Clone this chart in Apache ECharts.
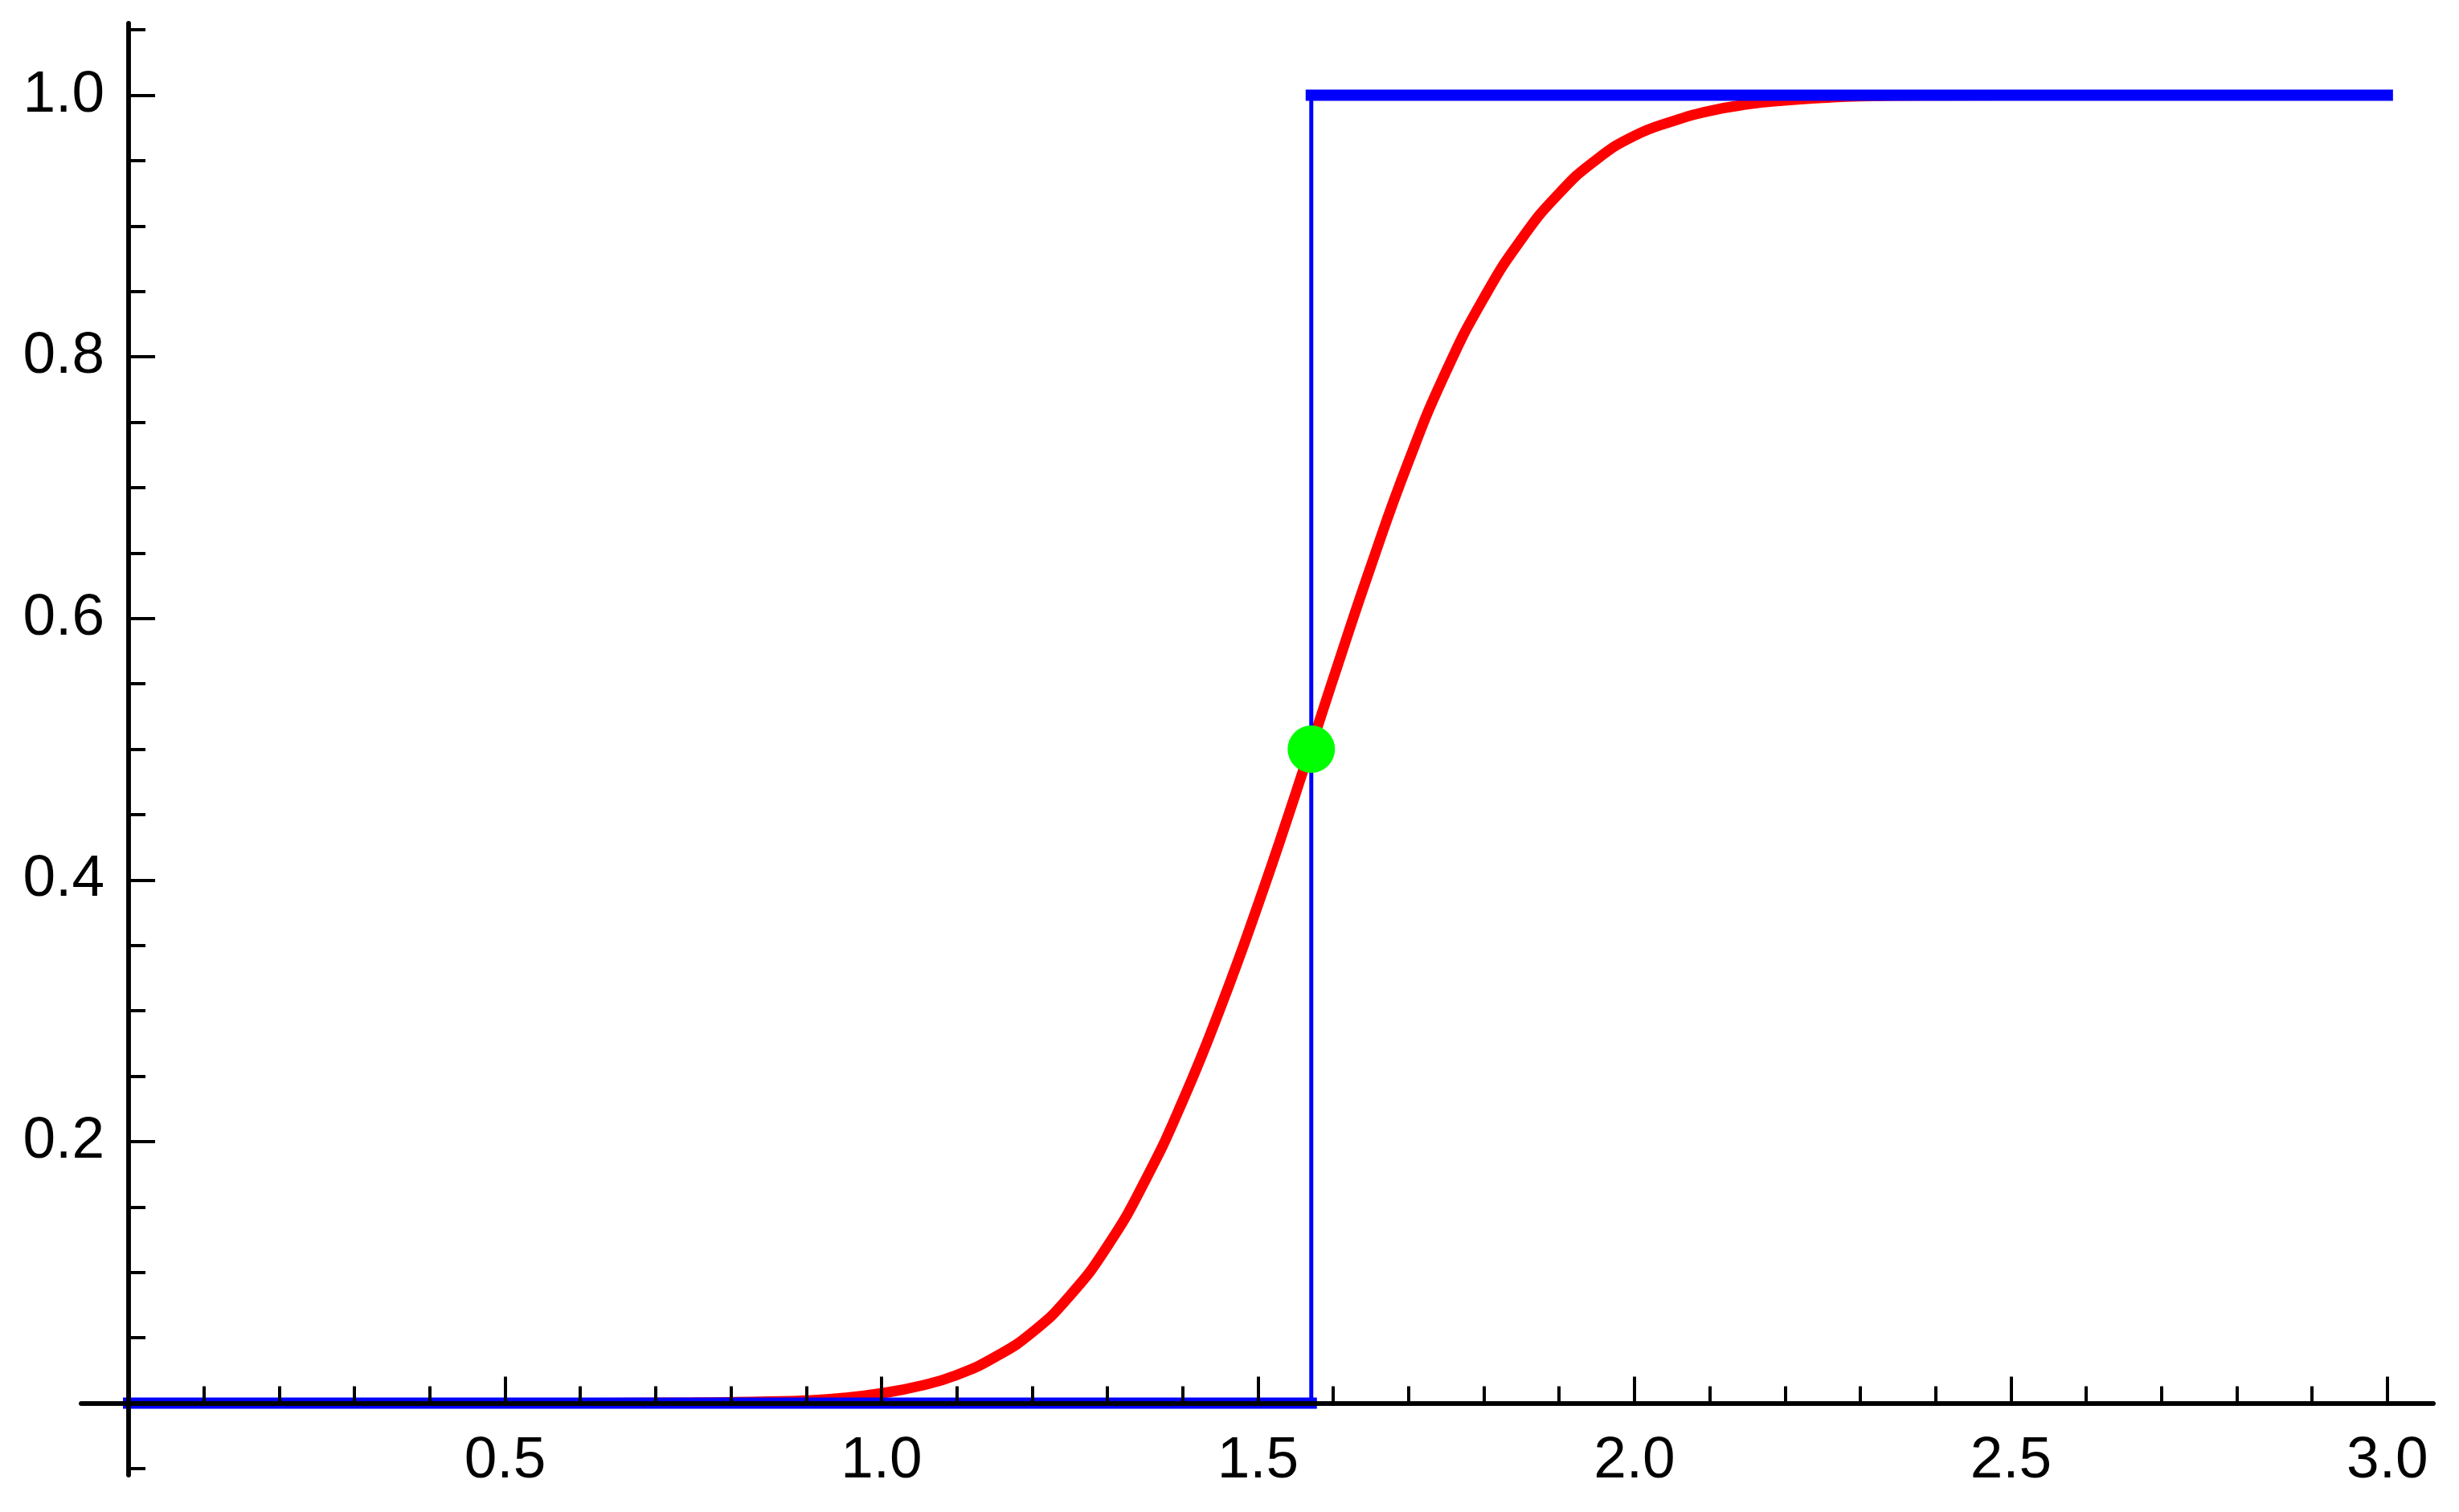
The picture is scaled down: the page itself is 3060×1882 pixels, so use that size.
<!DOCTYPE html>
<html>
<head>
<meta charset="utf-8">
<script src="https://cdn.jsdelivr.net/npm/echarts@6/dist/echarts.min.js"></script>
<style>
  html, body { margin: 0; padding: 0; background: #fff; }
  #chart { width: 3060px; height: 1882px; }
</style>
</head>
<body>
<div id="chart"></div>
<script>
// values
var redX = [0, 0.5, 0.75, 0.85, 0.9, 0.95, 1.0, 1.05, 1.1, 1.15, 1.2, 1.25, 1.3, 1.35, 1.4, 1.45, 1.5, 1.55, 1.6, 1.65, 1.7, 1.75, 1.8, 1.85, 1.9, 1.95, 2.0, 2.05, 2.1, 2.15, 2.2, 2.25, 2.3, 2.4, 2.6, 3.0];
var redY = [0, 0, 0.0004, 0.0012, 0.002, 0.004, 0.0075, 0.013, 0.0215, 0.035, 0.054, 0.082, 0.12, 0.17, 0.231, 0.302, 0.381, 0.466, 0.554, 0.64, 0.72, 0.789, 0.845, 0.89, 0.925, 0.951, 0.969, 0.98, 0.988, 0.993, 0.996, 0.998, 0.9993, 0.9999, 1, 1];

var jumpX = 1.5708;          // where the step jumps
var stepLowX = [0, jumpX];
var stepLowY = [0, 0];
var stepHighX = [jumpX, 3.0];
var stepHighY = [1, 1];
var jumpLineY = [0, 1];
var dotX = [1.5708];
var dotY = [0.5];

var xMajor = [0.5, 1.0, 1.5, 2.0, 2.5, 3.0];
var xMinor = [0.1, 0.2, 0.3, 0.4, 0.6, 0.7, 0.8, 0.9, 1.1, 1.2, 1.3, 1.4, 1.6, 1.7, 1.8, 1.9, 2.1, 2.2, 2.3, 2.4, 2.6, 2.7, 2.8, 2.9];
var yMajor = [0.2, 0.4, 0.6, 0.8, 1.0];
var yMinor = [-0.05, 0.05, 0.1, 0.15, 0.25, 0.3, 0.35, 0.45, 0.5, 0.55, 0.65, 0.7, 0.75, 0.85, 0.9, 0.95, 1.05];

var xMin = -0.063, xMax = 3.061;
var yMin = -0.055, yMax = 1.055;

function pairs(xs, ys) {
	var out = [];
	for (var i = 0; i < xs.length; i++) out.push([xs[i], ys[i]]);
	return out;
}

var axisLine = { show: true, onZero: true, onZeroAxisIndex: 0, lineStyle: { color: '#000', width: 5.5 } };
var labelFont = { color: '#000', fontSize: 73, fontFamily: 'Liberation Sans, Arial, sans-serif' };
var fmt = function (v) { return (+v).toFixed(1); };

var myChart = echarts.init(document.getElementById('chart'));
var option = {
	animation: false,
	backgroundColor: '#fff',
	grid: { left: 101, right: 32, top: 29, bottom: 46, outerBoundsMode: 'none' },
	xAxis: [
		{
			type: 'value', min: xMin, max: xMax, z: 10,
			axisLine: axisLine,
			axisTick: { show: true, inside: true, length: 33, customValues: xMajor, lineStyle: { color: '#000', width: 4 } },
			// labels sit at the grid edge, not on the zero line, so pull them up
			axisLabel: Object.assign({ show: true, margin: -54, customValues: xMajor, formatter: fmt }, labelFont),
			splitLine: { show: false }
		},
		{
			type: 'value', min: xMin, max: xMax, z: 10, position: 'bottom',
			axisLine: axisLine,
			axisTick: { show: true, inside: true, length: 21, customValues: xMinor, lineStyle: { color: '#000', width: 4 } },
			axisLabel: { show: false },
			splitLine: { show: false }
		}
	],
	yAxis: [
		{
			type: 'value', min: yMin, max: yMax, z: 10,
			axisLine: axisLine,
			axisTick: { show: true, inside: true, length: 33, customValues: yMajor, lineStyle: { color: '#000', width: 4 } },
			axisLabel: Object.assign({ show: true, margin: -29, customValues: yMajor, formatter: fmt }, labelFont),
			splitLine: { show: false }
		},
		{
			type: 'value', min: yMin, max: yMax, z: 10, position: 'left',
			axisLine: axisLine,
			axisTick: { show: true, inside: true, length: 21, customValues: yMinor, lineStyle: { color: '#000', width: 4 } },
			axisLabel: { show: false },
			splitLine: { show: false }
		}
	],
	series: [
		{
			name: 'smooth', type: 'line', z: 2,
			data: pairs(redX, redY),
			smooth: 0.5,
			showSymbol: false,
			lineStyle: { color: '#ff0000', width: 13 }
		},
		{
			name: 'stepLow', type: 'line', z: 3,
			data: pairs(stepLowX, stepLowY),
			showSymbol: false,
			lineStyle: { color: '#0000ff', width: 14, cap: 'square' }
		},
		{
			name: 'stepHigh', type: 'line', z: 3,
			data: pairs(stepHighX, stepHighY),
			showSymbol: false,
			lineStyle: { color: '#0000ff', width: 14, cap: 'square' }
		},
		{
			name: 'jump', type: 'line', z: 3,
			data: pairs([jumpX, jumpX], jumpLineY),
			showSymbol: false,
			lineStyle: { color: '#0000ff', width: 5 }
		},
		{
			name: 'point', type: 'scatter', z: 4,
			data: pairs(dotX, dotY),
			symbolSize: 59,
			itemStyle: { color: '#00ff00', opacity: 1 }
		}
	]
};
myChart.setOption(option);
</script>
</body>
</html>
